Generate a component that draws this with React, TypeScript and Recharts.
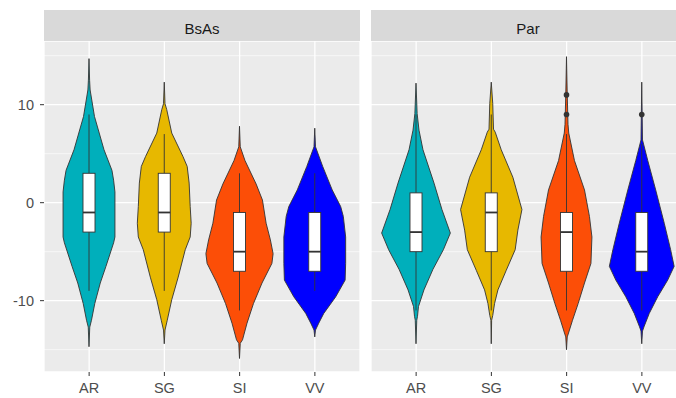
import React from 'react';
import { BarChart, Bar, XAxis, YAxis, CartesianGrid } from 'recharts';

const categories = ['AR', 'SG', 'SI', 'VV'];
const facets = ['BsAs', 'Par'];
const yTicks = [-10, 0, 10];
const yMinor = [-15, -5, 5, 15];

// violin outlines: [value, half-width as a fraction of the category spacing]
const bsasAR = [[14.7, 0], [12.5, 0.008], [11.5, 0.015], [8.8, 0.073], [5.4, 0.2], [3.3, 0.306], [2.3, 0.328], [1.1, 0.346], [-3.5, 0.346], [-4.1, 0.328], [-6.5, 0.226], [-8.2, 0.15], [-10.3, 0.077], [-12, 0.033], [-12.7, 0.01], [-14.7, 0]];
const bsasSG = [[12.3, 0], [10.1, 0.01], [9.5, 0.033], [7.1, 0.1], [4.7, 0.25], [3.7, 0.306], [2.0, 0.332], [-0.4, 0.346], [-2.1, 0.359], [-3.5, 0.346], [-4.8, 0.28], [-7.6, 0.186], [-9.9, 0.1], [-12, 0.04], [-13, 0.01], [-14.4, 0]];
const bsasSI = [[7.8, 0], [5.7, 0.01], [4.3, 0.073], [1.9, 0.222], [0.27, 0.306], [-2.1, 0.355], [-3.8, 0.412], [-5.2, 0.448], [-6.2, 0.432], [-8.2, 0.3], [-10.3, 0.186], [-12.3, 0.1], [-14, 0.04], [-14.35, 0.01], [-15.9, 0]];
const bsasVV = [[7.6, 0], [5.7, 0.01], [3.7, 0.106], [1.3, 0.233], [-0.4, 0.346], [-1.4, 0.381], [-3.5, 0.412], [-6.2, 0.412], [-7.9, 0.405], [-9.6, 0.28], [-11.3, 0.12], [-12.3, 0.053], [-13, 0.01], [-13.7, 0]];
const parAR = [[12.2, 0], [9.1, 0.015], [7.4, 0.04], [5.4, 0.093], [2, 0.24], [-0.7, 0.346], [-3.1, 0.458], [-4.8, 0.365], [-6.8, 0.226], [-8.9, 0.106], [-10.6, 0.033], [-11.6, 0.02], [-12, 0.01], [-14.4, 0]];
const parSG = [[12.3, 0], [10.1, 0.02], [7.5, 0.03], [7.2, 0.053], [5.4, 0.133], [2.6, 0.288], [-0.7, 0.409], [-2.8, 0.355], [-4.8, 0.319], [-6.9, 0.2], [-8.9, 0.089], [-10.3, 0.044], [-11.5, 0.02], [-12, 0.005], [-14.4, 0]];
const parSI = [[14.9, 0], [11, 0.01], [8, 0.02], [7.1, 0.03], [4.3, 0.106], [1.3, 0.24], [-1.4, 0.306], [-3.5, 0.339], [-6.2, 0.326], [-8.2, 0.24], [-10.3, 0.155], [-12, 0.08], [-13.3, 0.027], [-13.7, 0.01], [-15, 0]];
const parVV = [[12.3, 0], [6.4, 0.01], [4.3, 0.08], [1.3, 0.186], [-2.1, 0.3], [-4.8, 0.385], [-6.5, 0.432], [-7.9, 0.346], [-9.6, 0.213], [-11.3, 0.1], [-12.6, 0.033], [-13.1, 0.01], [-14.4, 0]];

// box stats: [lower whisker, Q1, median, Q3, upper whisker]
const bsasBoxes = [[-9, -3, -1, 3, 9], [-9, -3, -1, 3, 7], [-11, -7, -5, -1, 3], [-9, -7, -5, -1, 3]];
const parBoxes = [[-11, -5, -3, 1, 9], [-11, -5, -1, 1, 9], [-11, -7, -3, -1, 7], [-11, -7, -5, -1, 6]];
const bsasOutliers = [[], [], [], []];
const parOutliers = [[], [], [9, 11], [9]];

const fills: Record<string, string> = { AR: '#00AFBB', SG: '#E7B800', SI: '#FC4E07', VV: '#0000FF' };

function buildRows(profiles: number[][][], boxes: number[][], outliers: number[][]) {
  return categories.map((cat, i) => {
    const vals = profiles[i].map((p) => p[0]);
    return {
      cat,
      range: [Math.min(...vals), Math.max(...vals)],
      profile: profiles[i],
      box: boxes[i],
      outliers: outliers[i],
      color: fills[cat],
    };
  });
}

const panels = [
  { name: facets[0], rows: buildRows([bsasAR, bsasSG, bsasSI, bsasVV], bsasBoxes, bsasOutliers) },
  { name: facets[1], rows: buildRows([parAR, parSG, parSI, parVV], parBoxes, parOutliers) },
];

const OUT = '#333333';

const Violin = (props: any) => {
  const { x, y, width, height, payload } = props;
  if (!payload || width == null) return null;
  const [lo, hi] = payload.range;
  const top = Math.min(y, y + height);
  const bot = Math.max(y, y + height);
  const toY = (v: number) => top + ((hi - v) / (hi - lo)) * (bot - top);
  const cx = x + width / 2;
  const prof = [...payload.profile].sort((a: number[], b: number[]) => b[0] - a[0]);
  const right = prof.map(([v, d]: number[]) => `${cx + d * width},${toY(v)}`);
  const left = prof
    .slice()
    .reverse()
    .map(([v, d]: number[]) => `${cx - d * width},${toY(v)}`);
  const pts = right.concat(left).join(' ');
  const [wl, q1, med, q3, wh] = payload.box;
  const bw = width * 0.16;
  return (
    <g>
      <polygon points={pts} fill={payload.color} stroke={OUT} strokeWidth={0.9} strokeLinejoin="round" />
      <line x1={cx} x2={cx} y1={toY(wh)} y2={toY(wl)} stroke={OUT} strokeWidth={0.9} />
      <rect x={cx - bw / 2} y={toY(q3)} width={bw} height={toY(q1) - toY(q3)} fill="#FFFFFF" stroke={OUT} strokeWidth={0.9} />
      <line x1={cx - bw / 2} x2={cx + bw / 2} y1={toY(med)} y2={toY(med)} stroke={OUT} strokeWidth={1.8} />
      {payload.outliers.map((o: number, k: number) => (
        <circle key={k} cx={cx} cy={toY(o)} r={2.8} fill={OUT} />
      ))}
    </g>
  );
};

const tickStyle = { fill: '#4D4D4D', fontSize: 14.5 };

function Panel({ rows, showY, width }: { rows: any[]; showY: boolean; width: number }) {
  return (
    <BarChart
      width={width}
      height={398}
      data={rows}
      margin={{ top: 41, right: 0, left: 0, bottom: 0 }}
      barCategoryGap={0}
    >
      <CartesianGrid
        fill="#EBEBEB"
        stroke="#FFFFFF"
        strokeWidth={0.6}
        vertical={false}
        horizontalValues={yMinor}
      />
      <CartesianGrid fill="none" stroke="#FFFFFF" strokeWidth={1.3} />
      <XAxis
        dataKey="cat"
        padding={{ left: 7.5, right: 7.5 }}
        height={26}
        tickSize={4}
        tickMargin={7}
        axisLine={false}
        tickLine={{ stroke: OUT }}
        tick={tickStyle}
        interval={0}
      />
      <YAxis
        domain={[-17.28, 16.5]}
        ticks={yTicks}
        allowDataOverflow
        hide={!showY}
        width={showY ? 44 : 0}
        tickSize={4}
        tickMargin={6}
        axisLine={false}
        tickLine={{ stroke: OUT }}
        tick={tickStyle}
        interval={0}
      />
      <Bar dataKey="range" shape={<Violin />} isAnimationActive={false} />
    </BarChart>
  );
}

export default function App() {
  return (
    <div
      style={{
        position: 'absolute',
        left: 0,
        top: 0,
        width: 676,
        height: 398,
        overflow: 'hidden',
        background: '#FFFFFF',
        fontFamily: '"Liberation Sans", Arial, sans-serif',
      }}
    >
      <div style={{ position: 'absolute', left: 0, top: 0 }}>
        <Panel rows={panels[0].rows} showY={true} width={360} />
      </div>
      <div style={{ position: 'absolute', left: 371, top: 0 }}>
        <Panel rows={panels[1].rows} showY={false} width={316} />
      </div>
      <svg width={676} height={41} style={{ position: 'absolute', left: 0, top: 0 }}>
        <rect x={44} y={10} width={316} height={31} fill="#D9D9D9" />
        <rect x={371} y={10} width={316} height={31} fill="#D9D9D9" />
        <text x={202} y={34} textAnchor="middle" fontSize={15} fill="#1A1A1A">
          {panels[0].name}
        </text>
        <text x={528} y={34} textAnchor="middle" fontSize={15} fill="#1A1A1A">
          {panels[1].name}
        </text>
      </svg>
    </div>
  );
}
